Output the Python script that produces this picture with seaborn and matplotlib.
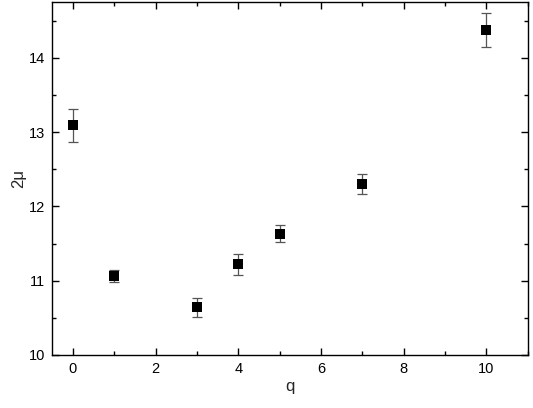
import matplotlib
matplotlib.use("Agg")
import matplotlib.pyplot as plt
from matplotlib.ticker import MultipleLocator
import seaborn as sns
import pandas as pd

# values
q_values = [0, 1, 3, 4, 5, 7, 10]
two_mu = [13.09, 11.06, 10.64, 11.22, 11.63, 12.30, 14.37]
two_mu_err = [0.22, 0.08, 0.13, 0.145, 0.115, 0.135, 0.23]

df = pd.DataFrame({"q": q_values, "2mu": two_mu, "err": two_mu_err})

sns.set_style("ticks")
plt.rcParams['font.family'] = ['Liberation Sans', 'DejaVu Sans']

fig, ax = plt.subplots(figsize=(5.33, 4.08), dpi=100)
fig.subplots_adjust(left=0.098, right=0.99, top=0.995, bottom=0.13)

ax.errorbar(df["q"], df["2mu"], yerr=df["err"], fmt="none",
            ecolor="#555555", elinewidth=0.9, capsize=3.5, capthick=0.9, zorder=2)
sns.scatterplot(data=df, x="q", y="2mu", marker="s", s=55, color="black",
                edgecolor="black", linewidth=0, ax=ax, zorder=3)

ax.set_xlim(-0.5, 11)
ax.set_ylim(10, 14.75)
ax.xaxis.set_major_locator(MultipleLocator(2))
ax.xaxis.set_minor_locator(MultipleLocator(1))
ax.yaxis.set_major_locator(MultipleLocator(1))
ax.yaxis.set_minor_locator(MultipleLocator(0.5))
ax.tick_params(which="both", direction="in", top=True, right=True,
               labelsize=10.5, width=1.0, colors="black")
ax.tick_params(which="major", length=5, pad=5)
ax.tick_params(which="minor", length=3)
for sp in ax.spines.values():
    sp.set_linewidth(1.0)
    sp.set_color("black")

ax.set_xlabel("q", fontsize=12, labelpad=2)
ax.set_ylabel("2μ", fontsize=12, labelpad=2)

fig.savefig("out.png", dpi=100)
